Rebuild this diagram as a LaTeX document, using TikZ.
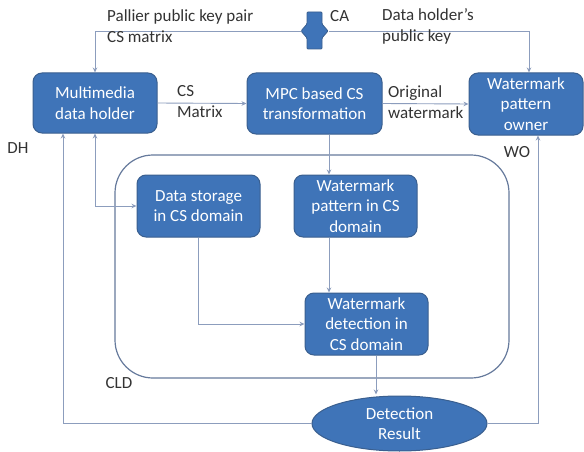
\documentclass[tikz,border=0pt]{standalone}
\usepackage{fontspec}
\setmainfont{Carlito}
\usetikzlibrary{arrows.meta,shapes.geometric,calc}
\definecolor{boxfill}{HTML}{3F74B8}
\definecolor{boxedge}{HTML}{3A5F8F}
\definecolor{linec}{HTML}{8C9DBD}
\definecolor{cldc}{HTML}{667A9C}
\definecolor{txt}{HTML}{333333}
\tikzset{
  bluebox/.style={draw=boxedge, line width=1pt, fill=boxfill, rounded corners=9pt, text=white, align=center, inner sep=0pt, font=\fontsize{17}{20.5}\selectfont},
  lbl/.style={text=txt, align=left, inner sep=0pt, font=\fontsize{17}{21}\selectfont},
  conn/.style={draw=linec, line width=0.9pt},
  arr/.style={conn, -{Stealth[length=5pt,width=4.5pt]}},
  barr/.style={conn, {Stealth[length=5pt,width=4.5pt]}-{Stealth[length=5pt,width=4.5pt]}}
}
\begin{document}
\begin{tikzpicture}[x=1pt,y=-1pt]
\useasboundingbox[fill=white] (0,0) rectangle (584,452);
% cloud domain container
\draw[draw=cldc, line width=1.2pt, rounded corners=38pt] (115,155) rectangle (509,378);
% nodes
\node[bluebox, minimum width=124pt, minimum height=60pt] (dh) at (95,103) {Multimedia\\data holder};
\node[bluebox, minimum width=135pt, minimum height=61pt] (mpc) at (314.5,103.5) {MPC based CS\\transformation};
\node[bluebox, minimum width=114pt, minimum height=62pt] (wo) at (526,104) {Watermark\\pattern\\owner};
\node[bluebox, minimum width=123pt, minimum height=62pt] (ds) at (198.5,206) {Data storage\\in CS domain};
\node[bluebox, minimum width=123pt, minimum height=62pt] (wp) at (355.5,206) {Watermark\\pattern in CS\\domain};
\node[bluebox, minimum width=123pt, minimum height=62pt] (wd) at (366.5,324) {Watermark\\detection in\\CS domain};
\node[ellipse, draw=boxedge, line width=1pt, fill=boxfill, text=white, align=center, inner sep=0pt, minimum width=175pt, minimum height=55pt, font=\fontsize{17}{20.5}\selectfont] (dr) at (399.5,423.5) {Detection\\Result};
% CA shape
\coordinate (ca) at (314.5,31);
\draw[arr] ([xshift=-14pt]ca) -| (dh.north);
\draw[arr] ([xshift=14pt]ca) -| ([xshift=3pt]wo.north);
\filldraw[draw=boxedge, fill=boxfill, line width=0.8pt, rounded corners=1pt, shift={(ca)}]
  (-7.5,-19) -- (7.5,-19) -- (7.5,-7) -- (13.5,0) -- (7.5,7) -- (7.5,18) -- (-7.5,18) -- (-7.5,7) -- (-13.5,0) -- (-7.5,-7) -- cycle;
% connectors
\draw[arr] (dh.east) -- (mpc.west);
\draw[arr] (mpc.east) -- (wo.west);
\draw[arr] ([xshift=14.5pt]mpc.south) -- ([xshift=14.5pt]mpc.south |- wp.north);
\draw[arr] ([xshift=-26.5pt]wp.south) -- ([xshift=-26.5pt]wp.south |- wd.north);
\draw[barr] (dh.south) |- (ds.west);
\draw[arr] (ds.south) |- (wd.west);
\draw[arr] ([xshift=9.5pt]wd.south) -- ([xshift=9.5pt,yshift=1pt]wd.south |- dr.north);
\draw[arr] (dr.west) -| ([xshift=-32pt]dh.south);
\draw[arr] (dr.east) -| ([xshift=12pt]wo.south);
% labels
\node[lbl, anchor=west] (l1) at (107,26.5) {Pallier public key pair\\CS matrix};
\node[lbl, anchor=west] (l2) at (330,16) {CA};
\node[lbl, anchor=west] (l3) at (382,26.5) {Data holder's\\public key};
\node[lbl, anchor=west] (l4) at (177,102) {CS\\Matrix};
\node[lbl, anchor=west] (l5) at (388,102) {Original\\watermark};
\node[lbl] (l6) at (18,148) {DH};
\node[lbl] (l7) at (517,152) {WO};
\node[lbl] (l8) at (119,383) {CLD};
\end{tikzpicture}
\end{document}
